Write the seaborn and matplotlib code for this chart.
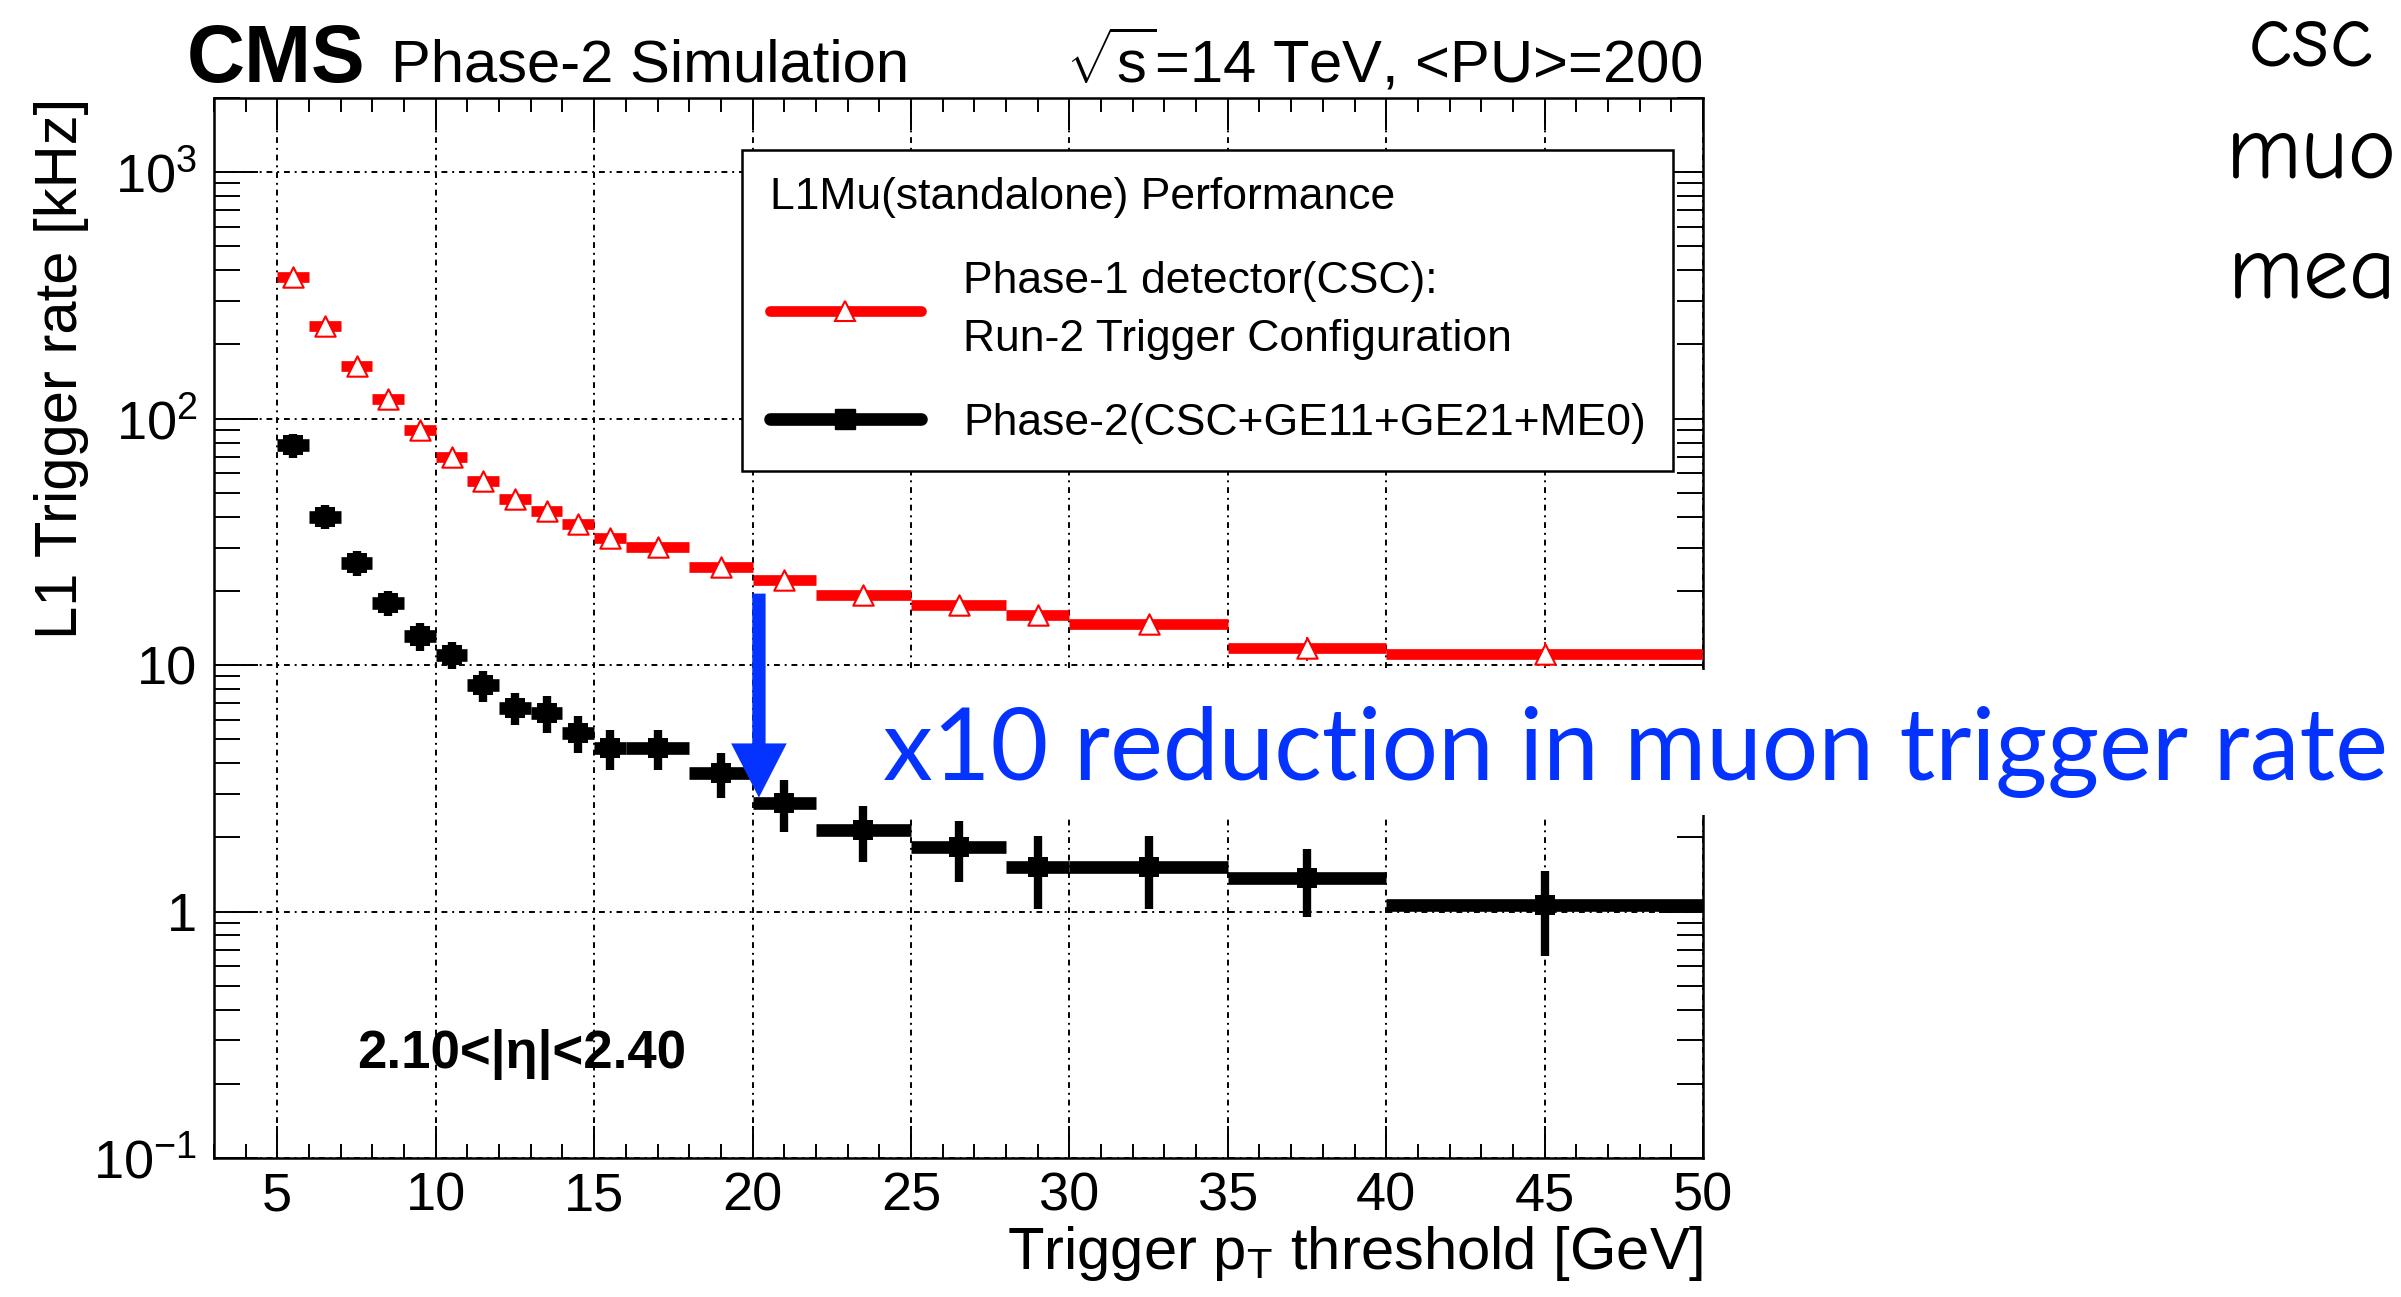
import numpy as np
import pandas as pd
import matplotlib
matplotlib.use("Agg")
import matplotlib.pyplot as plt
import seaborn as sns
from matplotlib import font_manager as fm
from matplotlib.lines import Line2D
from matplotlib.patches import Rectangle
from matplotlib.ticker import FixedLocator, FixedFormatter, LogLocator, NullFormatter, MultipleLocator

# ---------------- data ----------------
bin_low = [5, 6, 7, 8, 9, 10, 11, 12, 13, 14, 15, 16, 18, 20, 22, 25, 28, 30, 35, 40]
bin_high = [6, 7, 8, 9, 10, 11, 12, 13, 14, 15, 16, 18, 20, 22, 25, 28, 30, 35, 40, 50]
rate_phase1 = [377, 237, 163, 120, 90, 70, 56, 47, 42, 37.5, 32.7, 30.1, 25.0, 22.1,
               19.2, 17.6, 16.0, 14.7, 11.7, 11.1]
err_phase1 = [6, 5, 4, 3.5, 3, 2.6, 2.3, 2.1, 2.0, 1.9, 1.7, 1.2, 1.1, 1.0,
              0.8, 0.8, 1.0, 0.7, 1.3, 1.3]
rate_phase2 = [78, 40, 26, 17.9, 13.1, 11.0, 8.3, 6.7, 6.4, 5.3, 4.6, 4.6, 3.65, 2.76,
               2.14, 1.82, 1.52, 1.52, 1.37, 1.06]
err_phase2 = [9.0, 4.5, 3.0, 2.1, 1.7, 1.4, 1.2, 1.0, 1.1, 0.9, 0.85, 0.85, 0.75, 0.65,
              0.55, 0.5, 0.5, 0.5, 0.42, 0.40]
series_labels = ["Phase-1 detector(CSC):\nRun-2 Trigger Configuration",
                 "Phase-2(CSC+GE11+GE21+ME0)"]
legend_title = "L1Mu(standalone) Performance"
x_ticks = [5, 10, 15, 20, 25, 30, 35, 40, 45, 50]
y_ticks = [0.1, 1, 10, 100, 1000]
y_tick_labels = [r"$10^{-1}$", "1", "10", r"$10^{2}$", r"$10^{3}$"]
arrow_from = (20.2, 19.5)
arrow_to = (20.2, 2.9)

# ---------------- style ----------------
sns.set_theme(style="ticks")
plt.rcParams["font.family"] = ["Liberation Sans", "DejaVu Sans"]
plt.rcParams.update({
    "mathtext.fontset": "custom",
    "mathtext.rm": "Liberation Sans",
    "mathtext.it": "Liberation Sans:italic",
    "mathtext.bf": "Liberation Sans:bold",
    "axes.edgecolor": "black",
    "axes.linewidth": 1.8,
    "xtick.color": "black",
    "ytick.color": "black",
    "text.color": "black",
    "axes.labelcolor": "black",
})

names = {f.name for f in fm.fontManager.ttflist}
blue_font = next((n for n in ["Lato", "Open Sans", "Noto Sans"] if n in names), "DejaVu Sans")
hand_font = next((n for n in ["Comic Neue", "Liberation Sans Narrow", "Open Sans"] if n in names), "DejaVu Sans")

W, H = 2401, 1297
fig = plt.figure(figsize=(W / 100, H / 100), dpi=100)
fig.patch.set_facecolor("white")
ax = fig.add_axes([214 / W, 1 - 1158 / H, (1703 - 214) / W, (1158 - 98) / H])
ax.set_facecolor("white")

lo = np.array(bin_low, float)
hi = np.array(bin_high, float)
center = (lo + hi) / 2
half = (hi - lo) / 2
df1 = pd.DataFrame({"pt": center, "rate": rate_phase1, "err": err_phase1, "hw": half})
df2 = pd.DataFrame({"pt": center, "rate": rate_phase2, "err": err_phase2, "hw": half})

RED = "#ff0000"
BLUE = "#0433ff"

# Phase-1 (red open triangles)
ax.errorbar(df1["pt"], df1["rate"], xerr=df1["hw"], fmt="none", ecolor=RED,
            elinewidth=7.7, zorder=3)
ax.errorbar(df1["pt"], df1["rate"], yerr=df1["err"], fmt="none", ecolor=RED,
            elinewidth=1.4, zorder=3)
sns.scatterplot(data=df1, x="pt", y="rate", marker="^", s=215, color="white",
                edgecolor=RED, linewidth=1.5, ax=ax, zorder=4, legend=False)

# Phase-2 (black squares)
ax.errorbar(df2["pt"], df2["rate"], xerr=df2["hw"], fmt="none", ecolor="black",
            elinewidth=9.1, zorder=3)
ax.errorbar(df2["pt"], df2["rate"], yerr=df2["err"], fmt="none", ecolor="black",
            elinewidth=6.0, zorder=3)
sns.scatterplot(data=df2, x="pt", y="rate", marker="s", s=215, color="black",
                edgecolor="black", linewidth=0, ax=ax, zorder=4, legend=False)

# axes
ax.set_yscale("log")
ax.set_xlim(3, 50)
ax.set_ylim(0.1, 2000)
ax.xaxis.set_major_locator(FixedLocator(x_ticks))
ax.xaxis.set_minor_locator(MultipleLocator(1))
ax.yaxis.set_major_locator(FixedLocator(y_ticks))
ax.yaxis.set_major_formatter(FixedFormatter(y_tick_labels))
ax.yaxis.set_minor_locator(LogLocator(base=10, subs=np.arange(2, 10)))
ax.yaxis.set_minor_formatter(NullFormatter())
ax.tick_params(axis="x", which="major", length=23, width=1.4, direction="in",
               top=True, labelsize=39, pad=10)
ax.tick_params(axis="x", which="minor", length=10, width=1.4, direction="in", top=True)
ax.tick_params(axis="y", which="major", length=32, width=1.4, direction="in",
               right=True, labelsize=39, pad=12)
ax.tick_params(axis="y", which="minor", length=19, width=1.4, direction="in", right=True)
for s in ax.spines.values():
    s.set_linewidth(1.8)
    s.set_color("black")
ax.set_axisbelow(True)
ax.grid(True, which="major", color="black", lw=1.4, ls=(0, (3, 2.5, 1, 2.5)))
ax.grid(False, which="minor")

ax.set_ylabel("L1 Trigger rate [kHz]", fontsize=43, loc="top")
ax.yaxis.set_label_coords(-0.084, 1.0)
ax.set_xlabel(r"Trigger p$_{\mathrm{T}}$ threshold [GeV]", fontsize=43, loc="right")
ax.xaxis.set_label_coords(1.0, -0.062)

# legend
handles = [
    Line2D([], [], color=RED, lw=7.7, marker="^", ms=14.6, mfc="white", mec=RED, mew=1.5),
    Line2D([], [], color="black", lw=9.1, marker="s", ms=14.6, mfc="black", mec="black"),
]
leg = ax.legend(handles, series_labels, title=legend_title, loc="upper left",
                bbox_to_anchor=(0.3546, 0.951), fontsize=32, title_fontsize=32,
                frameon=True, fancybox=False, edgecolor="black", framealpha=1,
                borderpad=0.62, handlelength=3.4, handletextpad=0.95,
                labelspacing=0.95, alignment="left", borderaxespad=0)
leg.get_frame().set_linewidth(1.8)
leg.set_zorder(10)
for t in leg.get_texts():
    t.set_linespacing(1.55)

# texts
fig.text(187 / W, 1 - 82 / H, "CMS", fontsize=58, fontweight="bold", va="baseline")
fig.text(391 / W, 1 - 82 / H, "Phase-2 Simulation", fontsize=43, va="baseline")
fig.text(1702 / W, 1 - 82 / H, r"$\sqrt{\mathrm{s}}$=14 TeV, <PU>=200", fontsize=43,
         ha="right", va="baseline")
ax.text(0.096, 0.085, "2.10<|η|<2.40", transform=ax.transAxes, fontsize=38,
        fontweight="bold", va="baseline")

# annotation arrow
ax.annotate("", xy=arrow_to, xytext=arrow_from, xycoords="data", textcoords="data",
            arrowprops=dict(arrowstyle="simple,head_length=39,head_width=40,tail_width=9.6",
                            facecolor=BLUE, edgecolor="none", lw=0, mutation_scale=1,
                            shrinkA=0, shrinkB=0), zorder=8)

# blue annotation text over white band
fig.add_artist(Rectangle((870 / W, 1 - 815 / H), (W - 870) / W, 145 / H,
                         transform=fig.transFigure, facecolor="white",
                         edgecolor="none", zorder=5))
bt = fig.text(883 / W, 1 - 780 / H, "x10 reduction in muon trigger rate", color=BLUE,
              fontsize=76, fontfamily=blue_font, va="baseline", zorder=6)

# partially visible side notes (kept inside the canvas)
side = []
for txt, yb in [("csc", 66), ("muo", 178), ("mea", 298)]:
    side.append(fig.text(2248 / W, 1 - yb / H, txt, fontsize=66, fontfamily=hand_font,
                         va="baseline"))

fig.canvas.draw()
bb = bt.get_window_extent()
bt.set_fontsize(76 * 1505 / bb.width)
for t in side:
    ext = t.get_window_extent()
    x0 = min(2248, W - 4 - ext.width)
    t.set_x(x0 / W)
    if ext.y1 > H - 2:
        t.set_y(t.get_position()[1] - (ext.y1 - (H - 2)) / H)

fig.savefig("out.png", dpi=100, facecolor="white")
